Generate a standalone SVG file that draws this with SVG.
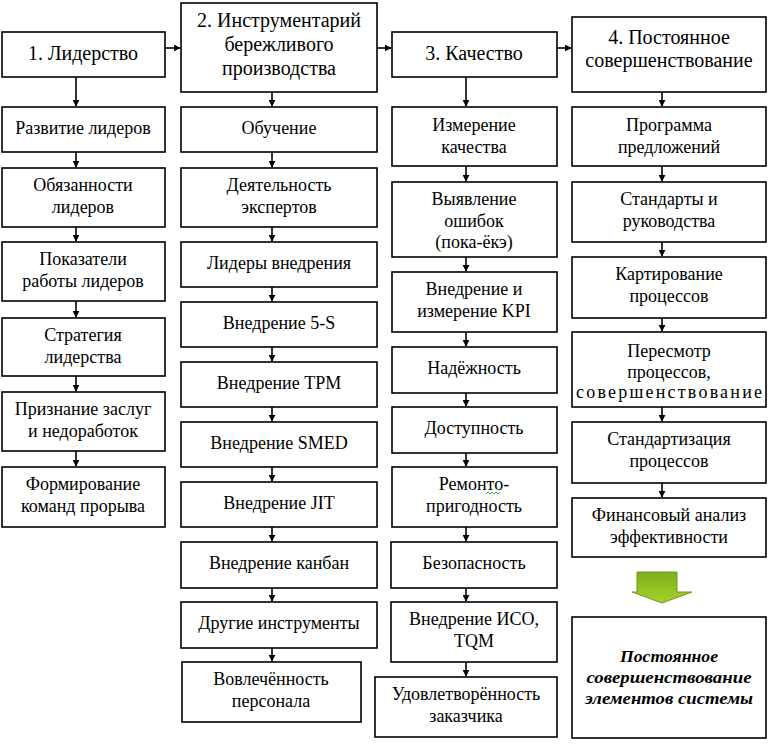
<svg xmlns="http://www.w3.org/2000/svg" width="769" height="747" viewBox="0 0 769 747">
<defs>
<marker id="ar" viewBox="0 0 10 10" refX="9" refY="5" markerWidth="7" markerHeight="7" markerUnits="userSpaceOnUse" orient="auto">
<path d="M0,0 L10,5 L0,10 z" fill="#000"/>
</marker>
<linearGradient id="g" x1="0" y1="0" x2="0" y2="1">
<stop offset="0" stop-color="#7fae1c"/>
<stop offset="1" stop-color="#a6d22c"/>
</linearGradient>
</defs>

<g id="connectors" stroke="#000" stroke-width="1.6" fill="none">
<line x1="165" y1="48" x2="180" y2="48" marker-end="url(#ar)"/>
<line x1="377" y1="48" x2="391" y2="48" marker-end="url(#ar)"/>
<line x1="557" y1="48" x2="571" y2="48" marker-end="url(#ar)"/>
<line x1="76" y1="77" x2="76" y2="106" marker-end="url(#ar)"/>
<line x1="76" y1="152" x2="76" y2="167" marker-end="url(#ar)"/>
<line x1="76" y1="227" x2="76" y2="241" marker-end="url(#ar)"/>
<line x1="76" y1="301" x2="76" y2="317" marker-end="url(#ar)"/>
<line x1="76" y1="376" x2="76" y2="391" marker-end="url(#ar)"/>
<line x1="76" y1="451" x2="76" y2="466" marker-end="url(#ar)"/>
<line x1="272" y1="92" x2="272" y2="106" marker-end="url(#ar)"/>
<line x1="272" y1="152" x2="272" y2="167" marker-end="url(#ar)"/>
<line x1="272" y1="227" x2="272" y2="241" marker-end="url(#ar)"/>
<line x1="272" y1="287" x2="272" y2="301" marker-end="url(#ar)"/>
<line x1="272" y1="347" x2="272" y2="361" marker-end="url(#ar)"/>
<line x1="272" y1="407" x2="272" y2="421" marker-end="url(#ar)"/>
<line x1="272" y1="467" x2="272" y2="481" marker-end="url(#ar)"/>
<line x1="272" y1="527" x2="272" y2="541" marker-end="url(#ar)"/>
<line x1="272" y1="588" x2="272" y2="601" marker-end="url(#ar)"/>
<line x1="272" y1="648" x2="272" y2="661" marker-end="url(#ar)"/>
<line x1="466" y1="77" x2="466" y2="106" marker-end="url(#ar)"/>
<line x1="466" y1="166" x2="466" y2="181" marker-end="url(#ar)"/>
<line x1="466" y1="257" x2="466" y2="271" marker-end="url(#ar)"/>
<line x1="466" y1="332" x2="466" y2="346" marker-end="url(#ar)"/>
<line x1="466" y1="393" x2="466" y2="406" marker-end="url(#ar)"/>
<line x1="466" y1="453" x2="466" y2="466" marker-end="url(#ar)"/>
<line x1="466" y1="527" x2="466" y2="541" marker-end="url(#ar)"/>
<line x1="466" y1="588" x2="466" y2="601" marker-end="url(#ar)"/>
<line x1="466" y1="662" x2="466" y2="676" marker-end="url(#ar)"/>
<line x1="662" y1="92" x2="662" y2="106" marker-end="url(#ar)"/>
<line x1="662" y1="166" x2="662" y2="181" marker-end="url(#ar)"/>
<line x1="662" y1="242" x2="662" y2="256" marker-end="url(#ar)"/>
<line x1="662" y1="318" x2="662" y2="331" marker-end="url(#ar)"/>
<line x1="662" y1="407" x2="662" y2="421" marker-end="url(#ar)"/>
<line x1="662" y1="483" x2="662" y2="497" marker-end="url(#ar)"/>
<path d="M637,572 H677 V592 H692 L662,603 L632,592 H637 Z" fill="url(#g)" stroke="#6f9a18" stroke-width="1"/>
</g>

<g font-size="18" text-anchor="middle" fill="#000">
<g id="n1"><rect fill="#fff" stroke="#000" stroke-width="1.6" x="2" y="32" width="163" height="45"/><text font-family="Liberation Serif" font-size="20" x="83" y="60">1. Лидерство</text></g>
<g id="n1a"><rect fill="#fff" stroke="#000" stroke-width="1.6" x="2" y="107" width="163" height="45"/><text font-family="Liberation Serif" x="83" y="134">Развитие лидеров</text></g>
<g id="n1b"><rect fill="#fff" stroke="#000" stroke-width="1.6" x="2" y="168" width="163" height="59"/><text font-family="Liberation Serif" x="83" y="191">Обязанности</text><text font-family="Liberation Serif" x="83" y="213">лидеров</text></g>
<g id="n1c"><rect fill="#fff" stroke="#000" stroke-width="1.6" x="2" y="242" width="163" height="59"/><text font-family="Liberation Serif" x="83" y="265">Показатели</text><text font-family="Liberation Serif" x="83" y="287">работы лидеров</text></g>
<g id="n1d"><rect fill="#fff" stroke="#000" stroke-width="1.6" x="2" y="318" width="163" height="58"/><text font-family="Liberation Serif" x="83" y="341">Стратегия</text><text font-family="Liberation Serif" x="83" y="363">лидерства</text></g>
<g id="n1e"><rect fill="#fff" stroke="#000" stroke-width="1.6" x="2" y="392" width="163" height="59"/><text font-family="Liberation Serif" x="83" y="415">Признание заслуг</text><text font-family="Liberation Serif" x="83" y="437">и недоработок</text></g>
<g id="n1f"><rect fill="#fff" stroke="#000" stroke-width="1.6" x="2" y="467" width="163" height="60"/><text font-family="Liberation Serif" x="83" y="490">Формирование</text><text font-family="Liberation Serif" x="83" y="512">команд прорыва</text></g>

<g id="n2"><rect fill="#fff" stroke="#000" stroke-width="1.6" x="181" y="3" width="196" height="89"/><text font-family="Liberation Serif" font-size="20" x="279" y="27">2. Инструментарий</text><text font-family="Liberation Serif" font-size="20" x="279" y="51">бережливого</text><text font-family="Liberation Serif" font-size="20" x="279" y="75">производства</text></g>
<g id="n2a"><rect fill="#fff" stroke="#000" stroke-width="1.6" x="181" y="107" width="196" height="45"/><text font-family="Liberation Serif" x="279" y="134">Обучение</text></g>
<g id="n2b"><rect fill="#fff" stroke="#000" stroke-width="1.6" x="181" y="168" width="196" height="59"/><text font-family="Liberation Serif" x="279" y="191">Деятельность</text><text font-family="Liberation Serif" x="279" y="213">экспертов</text></g>
<g id="n2c"><rect fill="#fff" stroke="#000" stroke-width="1.6" x="181" y="242" width="196" height="45"/><text font-family="Liberation Serif" x="279" y="269">Лидеры внедрения</text></g>
<g id="n2d"><rect fill="#fff" stroke="#000" stroke-width="1.6" x="181" y="302" width="196" height="45"/><text font-family="Liberation Serif" x="279" y="329">Внедрение 5-S</text></g>
<g id="n2e"><rect fill="#fff" stroke="#000" stroke-width="1.6" x="181" y="362" width="196" height="45"/><text font-family="Liberation Serif" x="279" y="389">Внедрение TPM</text></g>
<g id="n2f"><rect fill="#fff" stroke="#000" stroke-width="1.6" x="181" y="422" width="196" height="45"/><text font-family="Liberation Serif" x="279" y="449">Внедрение SMED</text></g>
<g id="n2g"><rect fill="#fff" stroke="#000" stroke-width="1.6" x="181" y="482" width="196" height="45"/><text font-family="Liberation Serif" x="279" y="509">Внедрение JIT</text></g>
<g id="n2h"><rect fill="#fff" stroke="#000" stroke-width="1.6" x="181" y="542" width="196" height="46"/><text font-family="Liberation Serif" x="279" y="569">Внедрение канбан</text></g>
<g id="n2i"><rect fill="#fff" stroke="#000" stroke-width="1.6" x="181" y="602" width="196" height="46"/><text font-family="Liberation Serif" x="279" y="629">Другие инструменты</text></g>
<g id="n2j"><rect fill="#fff" stroke="#000" stroke-width="1.6" x="182" y="662" width="179" height="60"/><text font-family="Liberation Serif" x="271" y="685">Вовлечённость</text><text font-family="Liberation Serif" x="271" y="707">персонала</text></g>

<g id="n3"><rect fill="#fff" stroke="#000" stroke-width="1.6" x="392" y="32" width="165" height="45"/><text font-family="Liberation Serif" font-size="20" x="474" y="60">3. Качество</text></g>
<g id="n3a"><rect fill="#fff" stroke="#000" stroke-width="1.6" x="392" y="107" width="165" height="59"/><text font-family="Liberation Serif" x="474" y="131">Измерение</text><text font-family="Liberation Serif" x="474" y="153">качества</text></g>
<g id="n3b"><rect fill="#fff" stroke="#000" stroke-width="1.6" x="392" y="182" width="165" height="75"/><text font-family="Liberation Serif" x="474" y="205">Выявление</text><text font-family="Liberation Serif" x="474" y="227">ошибок</text><text font-family="Liberation Serif" x="474" y="248">(пока-ёкэ)</text></g>
<g id="n3c"><rect fill="#fff" stroke="#000" stroke-width="1.6" x="392" y="272" width="165" height="60"/><text font-family="Liberation Serif" x="474" y="295">Внедрение и</text><text font-family="Liberation Serif" x="474" y="317">измерение KPI</text></g>
<g id="n3d"><rect fill="#fff" stroke="#000" stroke-width="1.6" x="392" y="347" width="165" height="46"/><text font-family="Liberation Serif" x="474" y="374">Надёжность</text></g>
<g id="n3e"><rect fill="#fff" stroke="#000" stroke-width="1.6" x="392" y="407" width="165" height="46"/><text font-family="Liberation Serif" x="474" y="434">Доступность</text></g>
<g id="n3f"><rect fill="#fff" stroke="#000" stroke-width="1.6" x="392" y="467" width="165" height="60"/><text font-family="Liberation Serif" x="474" y="490">Ремонто-</text><text font-family="Liberation Serif" x="474" y="512">пригодность</text><path d="M486,494 l2,-2 l2,2 l2,-2 l2,2 l2,-2 l2,2 l2,-2" fill="none" stroke="#3a9a2a" stroke-width="0.9"/></g>
<g id="n3g"><rect fill="#fff" stroke="#000" stroke-width="1.6" x="391" y="542" width="166" height="46"/><text font-family="Liberation Serif" x="474" y="569">Безопасность</text></g>
<g id="n3h"><rect fill="#fff" stroke="#000" stroke-width="1.6" x="391" y="602" width="166" height="60"/><text font-family="Liberation Serif" x="474" y="625">Внедрение ИСО,</text><text font-family="Liberation Serif" x="474" y="647">TQM</text></g>
<g id="n3i"><rect fill="#fff" stroke="#000" stroke-width="1.6" x="375" y="677" width="182" height="60"/><text font-family="Liberation Serif" x="466" y="700">Удовлетворённость</text><text font-family="Liberation Serif" x="466" y="722">заказчика</text></g>

<g id="n4"><rect fill="#fff" stroke="#000" stroke-width="1.6" x="572" y="17" width="194" height="75"/><text font-family="Liberation Serif" font-size="20" x="669" y="44">4. Постоянное</text><text font-family="Liberation Serif" font-size="20" x="669" y="67">совершенствование</text></g>
<g id="n4a"><rect fill="#fff" stroke="#000" stroke-width="1.6" x="572" y="107" width="194" height="59"/><text font-family="Liberation Serif" x="669" y="131">Программа</text><text font-family="Liberation Serif" x="669" y="153">предложений</text></g>
<g id="n4b"><rect fill="#fff" stroke="#000" stroke-width="1.6" x="572" y="182" width="194" height="60"/><text font-family="Liberation Serif" x="669" y="205">Стандарты и</text><text font-family="Liberation Serif" x="669" y="227">руководства</text></g>
<g id="n4c"><rect fill="#fff" stroke="#000" stroke-width="1.6" x="572" y="257" width="194" height="61"/><text font-family="Liberation Serif" x="669" y="280">Картирование</text><text font-family="Liberation Serif" x="669" y="302">процессов</text></g>
<g id="n4d"><rect fill="#fff" stroke="#000" stroke-width="1.6" x="572" y="332" width="194" height="75"/><text font-family="Liberation Serif" x="669" y="357">Пересмотр</text><text font-family="Liberation Serif" x="669" y="378">процессов,</text><text font-family="Liberation Serif" x="669" y="398" textLength="186" lengthAdjust="spacing">совершенствование</text></g>
<g id="n4e"><rect fill="#fff" stroke="#000" stroke-width="1.6" x="572" y="422" width="194" height="61"/><text font-family="Liberation Serif" x="669" y="445">Стандартизация</text><text font-family="Liberation Serif" x="669" y="467">процессов</text></g>
<g id="n4f"><rect fill="#fff" stroke="#000" stroke-width="1.6" x="572" y="498" width="194" height="59"/><text font-family="Liberation Serif" x="669" y="521">Финансовый анализ</text><text font-family="Liberation Serif" x="669" y="543">эффективности</text></g>
<g id="n5" font-size="16" font-weight="bold" font-style="italic"><rect fill="#fff" stroke="#000" stroke-width="1.6" x="572" y="617" width="194" height="121"/><text font-family="Liberation Serif" x="669" y="662" textLength="98" lengthAdjust="spacingAndGlyphs">Постоянное</text><text font-family="Liberation Serif" x="669" y="683" textLength="165" lengthAdjust="spacingAndGlyphs">совершенствование</text><text font-family="Liberation Serif" x="669" y="704" textLength="168" lengthAdjust="spacingAndGlyphs">элементов системы</text></g>
</g>
</svg>
